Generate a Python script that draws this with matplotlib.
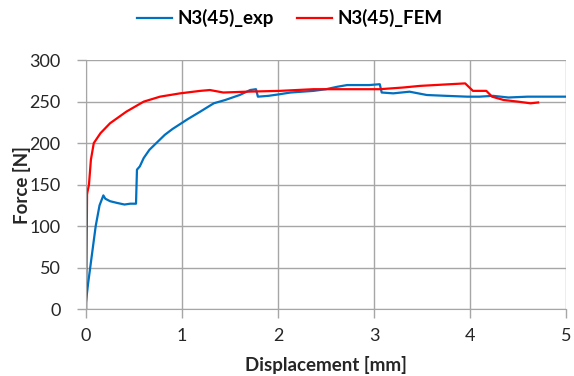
import matplotlib
matplotlib.use("Agg")
import matplotlib.pyplot as plt

plt.rcParams['font.family'] = ['Lato', 'DejaVu Sans']

exp_x = [0.0, 0.02, 0.06, 0.10, 0.14, 0.18, 0.20, 0.25, 0.32, 0.40, 0.46, 0.52, 0.53, 0.56, 0.60,
         0.66, 0.74, 0.82, 0.90, 0.98, 1.06, 1.19, 1.33, 1.45, 1.60, 1.71, 1.77, 1.79, 1.90, 2.02,
         2.13, 2.25, 2.37, 2.50, 2.62, 2.72, 2.85, 2.95, 3.06, 3.08, 3.20, 3.37, 3.55, 3.75, 3.97,
         4.10, 4.24, 4.40, 4.60, 4.80, 5.0]
exp_y = [10, 30, 65, 100, 125, 137, 133, 130, 128, 126, 127, 127, 168, 172, 182,
         192, 201, 210, 217, 223, 229, 238, 248, 252, 258, 264, 265, 256, 257, 259,
         261, 262, 263, 265, 268, 270, 270, 270, 271, 261, 260, 262, 258, 257, 256,
         256, 257, 255, 256, 256, 256]

fem_x = [0.0, 0.01, 0.014, 0.03, 0.05, 0.08, 0.15, 0.25, 0.42, 0.60, 0.77, 0.98, 1.19, 1.29,
         1.43, 1.67, 2.02, 2.37, 3.06, 3.30, 3.48, 3.79, 3.95, 4.03, 4.17, 4.23, 4.35, 4.50,
         4.63, 4.71]
fem_y = [0, 138, 141, 150, 180, 200, 212, 224, 238, 250, 256, 260, 263, 264,
         261, 262, 263, 265, 265, 267, 269, 271, 272, 263, 263, 256, 252, 250,
         248, 249]

fig = plt.figure(figsize=(5.74, 3.76), dpi=100)
ax = fig.add_axes([0.150, 0.178, 0.836, 0.662])

ax.plot(exp_x, exp_y, color='#0070C0', lw=1.6, label='N3(45)_exp')
ax.plot(fem_x, fem_y, color='#FF0000', lw=1.6, label='N3(45)_FEM')

ax.set_xlim(0, 5)
ax.set_ylim(0, 300)
ax.set_xticks(range(0, 6))
ax.set_yticks(range(0, 301, 50))
ax.grid(True, color='#A6A6A6', lw=1)
ax.set_axisbelow(True)
for s in ['top', 'right']:
    ax.spines[s].set_visible(False)
for s in ['left', 'bottom']:
    ax.spines[s].set_color('#A6A6A6')
ax.tick_params(axis='both', colors='#A6A6A6', labelcolor='#262626', labelsize=13, length=6.5, width=1)
ax.tick_params(axis='y', pad=12)
ax.tick_params(axis='x', pad=7)
ax.set_xlabel('Displacement [mm]', fontsize=13.5, fontweight='bold', color='#262626')
ax.set_ylabel('Force [N]', fontsize=13.5, fontweight='bold', color='#262626')
ax.xaxis.set_label_coords(0.5, -0.19)
ax.yaxis.set_label_coords(-0.115, 0.5)

leg = fig.legend(loc='center', bbox_to_anchor=(0.505, 0.952), ncol=2, frameon=False,
                 prop={'size': 13.5, 'weight': 'bold'}, handlelength=1.9,
                 handletextpad=0.3, columnspacing=1.2)
for t in leg.get_texts():
    t.set_color('#000000')

fig.savefig('out.png', dpi=100)
